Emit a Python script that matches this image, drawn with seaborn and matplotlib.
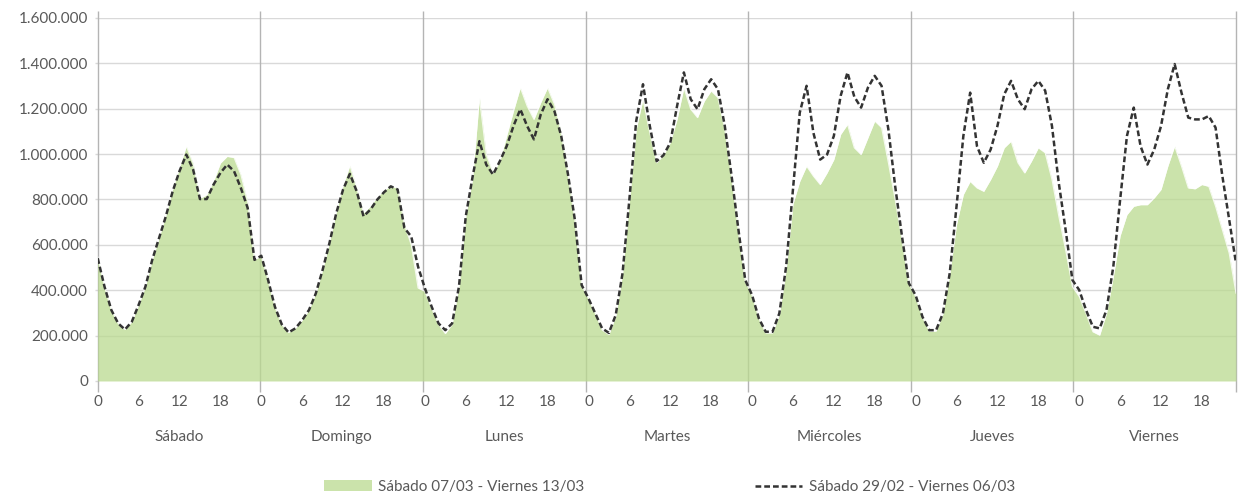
import numpy as np
import pandas as pd
import matplotlib
matplotlib.use("Agg")
import matplotlib.pyplot as plt
import seaborn as sns
from matplotlib.patches import Patch
from matplotlib.lines import Line2D
from matplotlib.ticker import FuncFormatter, MultipleLocator

# ---------------- data ----------------
days = ["Sábado", "Domingo", "Lunes", "Martes", "Miércoles", "Jueves", "Viernes"]
hour_ticks = [0, 6, 12, 18]
label_current = "Sábado 07/03 - Viernes 13/03"
label_previous = "Sábado 29/02 - Viernes 06/03"

# current week (green area), hourly values 0..23 per day
cur_sab = [549000, 416000, 313000, 254000, 227000, 261000, 335000, 416000, 534000, 630000, 730000, 845000,
           940000, 1035000, 960000, 805000, 820000, 880000, 960000, 990000, 985000, 910000, 790000, 534000]
cur_dom = [552000, 445000, 327000, 250000, 214000, 232000, 268000, 313000, 386000, 490000, 610000, 745000,
           860000, 950000, 850000, 740000, 770000, 810000, 840000, 860000, 850000, 690000, 600000, 410000]
cur_lun = [395000, 320000, 250000, 209000, 250000, 416000, 726000, 890000, 1249000, 1000000, 917000, 969000,
           1080000, 1190000, 1293000, 1212000, 1153000, 1227000, 1293000, 1220000, 1094000, 910000, 711000, 423000]
cur_mar = [364000, 298000, 225000, 205000, 285000, 470000, 790000, 1109000, 1242000, 1094000, 962000, 995000,
           1050000, 1153000, 1293000, 1198000, 1161000, 1234000, 1279000, 1249000, 1109000, 900000, 660000, 440000]
cur_mie = [379000, 276000, 212000, 212000, 290000, 490000, 780000, 880000, 947000, 903000, 866000, 917000,
           976000, 1087000, 1131000, 1028000, 998000, 1072000, 1146000, 1117000, 962000, 799000, 622000, 431000]
cur_jue = [372000, 283000, 220000, 220000, 295000, 470000, 690000, 822000, 880000, 851000, 836000, 888000,
           947000, 1028000, 1057000, 962000, 917000, 969000, 1028000, 1006000, 888000, 726000, 578000, 416000]
cur_vie = [372000, 298000, 217000, 202000, 298000, 460000, 640000, 733000, 770000, 777000, 777000, 807000,
           844000, 947000, 1035000, 947000, 851000, 847000, 866000, 858000, 770000, 667000, 563000, 386000]

# previous week (dashed line)
prev_sab = [541000, 416000, 313000, 254000, 227000, 261000, 335000, 416000, 534000, 630000, 726000, 836000,
            925000, 998000, 932000, 802000, 802000, 866000, 917000, 954000, 925000, 851000, 763000, 534000]
prev_dom = [552000, 445000, 327000, 250000, 214000, 232000, 268000, 313000, 386000, 490000, 608000, 740000,
            844000, 913000, 836000, 726000, 755000, 799000, 832000, 858000, 844000, 674000, 637000, 504000]
prev_lun = [409000, 327000, 254000, 224000, 254000, 416000, 726000, 900000, 1057000, 954000, 910000, 969000,
            1035000, 1124000, 1198000, 1124000, 1065000, 1175000, 1242000, 1190000, 1080000, 910000, 711000, 423000]
prev_mar = [364000, 298000, 232000, 212000, 291000, 475000, 799000, 1145000, 1308000, 1124000, 969000, 995000,
            1050000, 1212000, 1360000, 1242000, 1198000, 1286000, 1330000, 1286000, 1124000, 903000, 667000, 445000]
prev_mie = [379000, 276000, 217000, 217000, 298000, 504000, 844000, 1183000, 1301000, 1094000, 976000, 998000,
            1080000, 1257000, 1360000, 1253000, 1205000, 1293000, 1345000, 1301000, 1109000, 858000, 637000, 431000]
prev_jue = [378000, 283000, 224000, 224000, 298000, 475000, 770000, 1080000, 1271000, 1035000, 962000, 1020000,
            1124000, 1264000, 1323000, 1242000, 1198000, 1286000, 1323000, 1280000, 1124000, 873000, 667000, 445000]
prev_vie = [401000, 313000, 239000, 232000, 313000, 504000, 799000, 1080000, 1205000, 1035000, 954000, 1020000,
            1124000, 1286000, 1397000, 1271000, 1161000, 1153000, 1153000, 1168000, 1117000, 903000, 711000, 519000]

current = np.array(cur_sab + cur_dom + cur_lun + cur_mar + cur_mie + cur_jue + cur_vie, dtype=float)
previous = np.array(prev_sab + prev_dom + prev_lun + prev_mar + prev_mie + prev_jue + prev_vie, dtype=float)
df = pd.DataFrame({"hora": np.arange(len(current)), "actual": current, "anterior": previous})

# ---------------- style ----------------
sns.set_theme(style="white")
plt.rcParams["font.family"] = ["Lato", "DejaVu Sans"]
text_col = "#595959"
grid_col = "#d9d9d9"
sep_col = "#b4b4b4"
green = "#BADA8F"
green_alpha = 0.75
dark = "#333333"
dash = (0, (2.3, 1.2))
fs = 11

fig = plt.figure(figsize=(12.38, 4.97), dpi=100)
ax = fig.add_axes([97.7 / 1238, 116 / 497, (1236 - 97.7) / 1238, 363 / 497])

n = len(df)
ax.set_xlim(0, n - 1)
ax.set_ylim(0, 1600000)

# horizontal grid
ax.yaxis.set_major_locator(MultipleLocator(200000))
ax.yaxis.grid(True, color=grid_col, lw=1.0, zorder=0)
ax.xaxis.grid(False)
ax.set_axisbelow(True)

# day groups: the axis width is split into equal slots per day
slot = (n - 1) / n
trans = ax.get_xaxis_transform()
sep_pos = [24 * d * slot for d in range(len(days) + 1)]
ax.vlines(sep_pos, -0.031, 1.019, transform=trans, colors=sep_col, lw=1.0, zorder=1, clip_on=False)

# area + dashed line
ax.fill_between(df["hora"], df["actual"], color=green, alpha=green_alpha, lw=0, zorder=2)
ax.plot(df["hora"], df["actual"], color="white", lw=0.8, alpha=0.8, zorder=2.5)
sns.lineplot(data=df, x="hora", y="anterior", ax=ax, color=dark, lw=1.8,
             linestyle=dash, legend=False, zorder=3)

for s in ax.spines.values():
    s.set_visible(False)

# y axis
ax.yaxis.set_major_formatter(FuncFormatter(lambda v, p: f"{int(v):,}".replace(",", ".")))
ax.tick_params(axis="y", length=2.5, width=1, color=grid_col, pad=4.5, labelsize=fs, labelcolor=text_col, left=True)

# x axis
xt = [24 * d + h for d in range(len(days)) for h in hour_ticks]
ax.set_xticks(xt, labels=[str(h) for d in range(len(days)) for h in hour_ticks])
ax.tick_params(axis="x", length=0, pad=10, labelsize=fs, labelcolor=text_col)
ax.set_xlabel("")
ax.set_ylabel("")

for d, name in enumerate(days):
    ax.text((24 * d + 12) * slot, -0.154, name, transform=trans, ha="center", va="center",
            fontsize=fs, color=text_col)

# legend
handles = [Patch(facecolor=green, alpha=green_alpha, edgecolor="none"),
           Line2D([0], [0], color=dark, lw=1.8, linestyle=dash)]
fig.legend(handles, [label_current, label_previous], loc="center",
           bbox_to_anchor=(669.5 / 1238, 1 - 487 / 497), ncol=2, frameon=False,
           handlelength=3.1, handleheight=0.75, columnspacing=11.2, handletextpad=0.4,
           fontsize=fs, labelcolor=text_col)

fig.savefig("out.png", dpi=100)
